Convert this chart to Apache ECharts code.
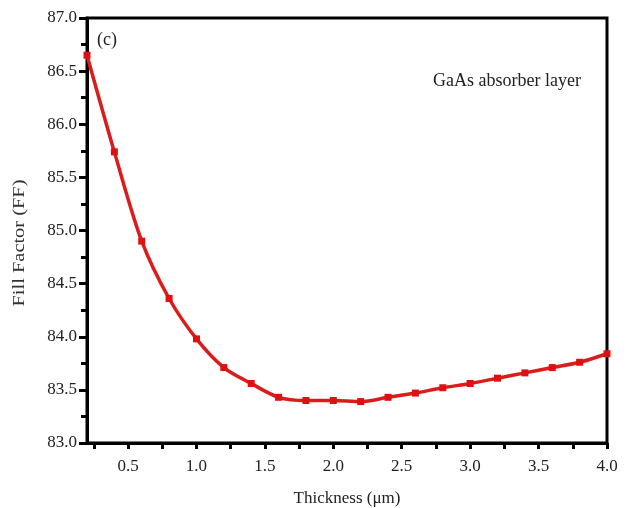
<!DOCTYPE html>
<html>
<head>
<meta charset="utf-8">
<script src="https://cdn.jsdelivr.net/npm/echarts@6/dist/echarts.min.js"></script>
<style>
html,body{margin:0;padding:0;background:#fff;}
#chart{width:639px;height:508px;}
</style>
</head>
<body>
<div id="chart"></div>
<script>
// thickness (um) vs fill factor
var thickness = [0.2,0.4,0.6,0.8,1.0,1.2,1.4,1.6,1.8,2.0,2.2,2.4,2.6,2.8,3.0,3.2,3.4,3.6,3.8,4.0];
var fillFactor = [86.65,85.74,84.90,84.36,83.98,83.71,83.56,83.43,83.40,83.40,83.39,83.43,83.47,83.52,83.56,83.61,83.66,83.71,83.76,83.84];
var xLabels = [0.5,1.0,1.5,2.0,2.5,3.0,3.5,4.0];
var xTicks = [0.25,0.5,0.75,1.0,1.25,1.5,1.75,2.0,2.25,2.5,2.75,3.0,3.25,3.5,3.75,4.0];

var font = '"Liberation Serif", "DejaVu Serif", serif';
var myChart = echarts.init(document.getElementById('chart'));

var data = [];
for (var i = 0; i < thickness.length; i++) {
    data.push([thickness[i], fillFactor[i]]);
}

var option = {
    backgroundColor: '#fff',
    animation: false,
    grid: {
        left: 87, right: 32, top: 18, bottom: 65,
        outerBoundsMode: 'none',
        show: true,
        borderColor: '#000',
        borderWidth: 3
    },
    xAxis: {
        type: 'value',
        min: 0.2,
        max: 4.0,
        name: 'Thickness (μm)',
        nameLocation: 'middle',
        nameGap: 47,
        nameTextStyle: {fontFamily: font, fontSize: 17, color: '#222'},
        axisLine: {show: true, lineStyle: {color: '#000', width: 3}},
        axisTick: {show: true, inside: false, length: 6, customValues: xTicks, lineStyle: {color: '#000', width: 3}},
        axisLabel: {
            customValues: xLabels,
            fontFamily: font, fontSize: 17, color: '#222', margin: 15,
            formatter: function (v) { return v.toFixed(1); }
        },
        splitLine: {show: false}
    },
    yAxis: {
        type: 'value',
        min: 83.0,
        max: 87.0,
        interval: 0.5,
        axisLine: {show: true, lineStyle: {color: '#000', width: 3}},
        axisTick: {show: true, inside: false, length: 8, lineStyle: {color: '#000', width: 3}},
        minorTick: {show: true, splitNumber: 2, length: 6, lineStyle: {color: '#000', width: 3}},
        axisLabel: {
            fontFamily: font, fontSize: 17, color: '#222', margin: 10,
            formatter: function (v) { return v.toFixed(1); }
        },
        splitLine: {show: false}
    },
    graphic: [
        {type: 'text', x: 20, y: 243, rotation: Math.PI / 2, scaleX: 1.2,
            style: {text: 'Fill Factor (FF)', fontFamily: font, fontSize: 17, fill: '#333', align: 'center', verticalAlign: 'middle'}},
        {type: 'text', left: 97, top: 31, style: {text: '(c)', fontFamily: font, fontSize: 18, fill: '#222'}},
        {type: 'text', left: 433, top: 72, style: {text: 'GaAs absorber layer', fontFamily: font, fontSize: 18, fill: '#222'}}
    ],
    series: [{
        type: 'line',
        data: data,
        smooth: 0.3,
        symbol: 'rect',
        symbolSize: 7,
        lineStyle: {color: '#d91c1c', width: 3.5},
        itemStyle: {color: '#e01010'},
        clip: false
    }]
};
myChart.setOption(option);
</script>
</body>
</html>
